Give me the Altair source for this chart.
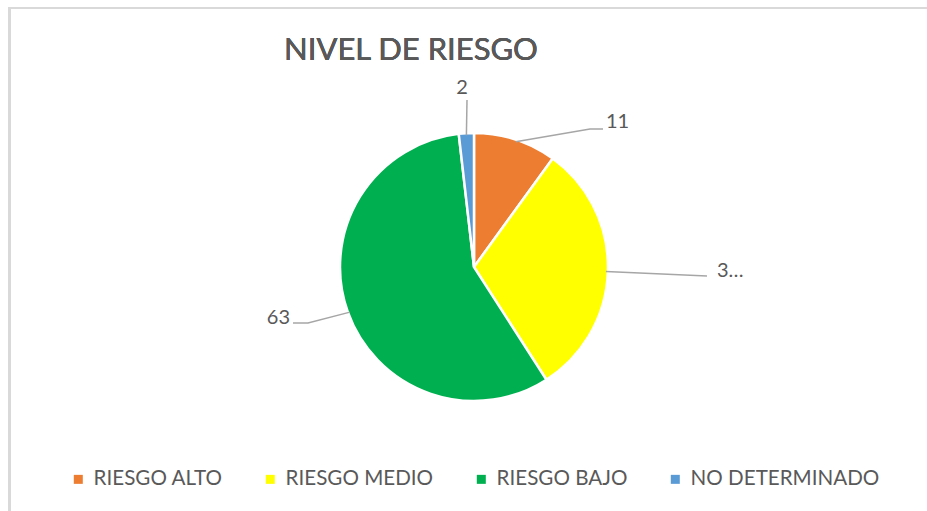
import altair as alt
import pandas as pd
import math

# ---- data ----
categories = ["RIESGO ALTO", "RIESGO MEDIO", "RIESGO BAJO", "NO DETERMINADO"]
values = [11, 34, 63, 2]
value_labels = ["11", "3…", "63", "2"]
colors = ["#ED7D31", "#FFFF00", "#00B050", "#5B9BD5"]

# ---- layout (not data) ----
W, H = 927, 511
CX, CY, R = 474, 267, 134
TEXT = "#595959"
FONT = "Lato"
# leader lines: start angle on the pie edge (deg clockwise from top), then extra points
leader_start_deg = [18.4, 92.0, 250.0, 356.7]
leader_pts = [
    [(590, 129), (603, 129)],
    [(707, 276)],
    [(308, 323), (293, 323)],
    [(467, 100)],
]
label_pos = [(606, 122, "left"), (717, 271, "left"), (290, 318, "right"), (462, 88, "center")]

df = pd.DataFrame({"cat": categories, "val": values, "idx": range(4)})

rows = []
for i, c in enumerate(categories):
    a = math.radians(leader_start_deg[i])
    pts = [(CX + (R - 2) * math.sin(a), CY - (R - 2) * math.cos(a))] + leader_pts[i]
    for j, (px, py) in enumerate(pts):
        rows.append({"cat": c, "o": j, "px": px, "py": py})
lines_df = pd.DataFrame(rows)

lab_df = pd.DataFrame({
    "cat": categories,
    "lab": value_labels,
    "px": [p[0] for p in label_pos],
    "py": [p[1] for p in label_pos],
    "al": [p[2] for p in label_pos],
})

frame_top = alt.Chart(df).mark_rule(color="#d9d9d9", strokeWidth=2).encode(
    x=alt.value(8), x2=alt.value(W), y=alt.value(8))
frame_left = alt.Chart(df).mark_rule(color="#d9d9d9", strokeWidth=3).encode(
    x=alt.value(9.5), y=alt.value(7), y2=alt.value(H))

pie = alt.Chart(df).mark_arc(outerRadius=R, stroke="white", strokeWidth=2.5).encode(
    theta=alt.Theta("val:Q", stack=True),
    color=alt.Color(
        "cat:N",
        scale=alt.Scale(domain=categories, range=colors),
        sort=categories,
        legend=alt.Legend(
            title=None, orient="none", direction="horizontal",
            legendX=68, legendY=469,
            symbolType="square", symbolSize=81, symbolStrokeWidth=0,
            labelFontSize=20.6, labelFont=FONT, labelColor=TEXT,
            labelOffset=5, columnPadding=37, labelLimit=400,
        ),
    ),
    order=alt.Order("idx:Q"),
    x=alt.value(CX), y=alt.value(CY),
)

leaders = alt.Chart(lines_df).mark_line(color="#a6a6a6", strokeWidth=1.5).encode(
    x=alt.X("px:Q", scale=None), y=alt.Y("py:Q", scale=None),
    detail="cat:N", order="o:Q")

def lab_layer(align):
    return alt.Chart(lab_df).transform_filter(alt.datum.al == align).mark_text(
        align=align, baseline="middle", fontSize=20, font=FONT, color=TEXT
    ).encode(x=alt.X("px:Q", scale=None), y=alt.Y("py:Q", scale=None), text="lab:N")

title = alt.Chart(df).mark_text(
    text="NIVEL DE RIESGO", fontSize=31, font=FONT, fontWeight="normal", color=TEXT,
    align="center", baseline="middle"
).encode(x=alt.value(411), y=alt.value(51))

chart = alt.layer(
    frame_top, frame_left, pie, leaders,
    lab_layer("left"), lab_layer("right"), lab_layer("center"), title
).properties(
    width=W, height=H, padding=0, autosize=alt.AutoSizeParams(type="none"),
    background="white"
).configure_view(stroke=None)

chart.save("out.html", embed_options={"renderer": "svg", "actions": False})
